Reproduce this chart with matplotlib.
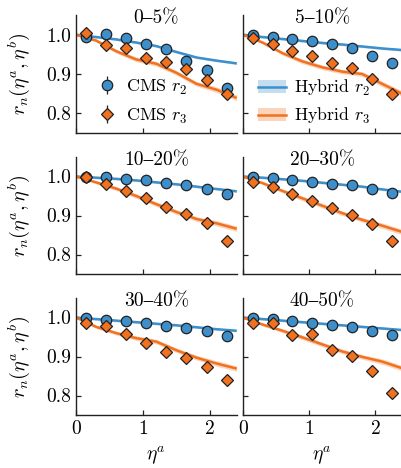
import numpy as np
import matplotlib
matplotlib.use('Agg')
import matplotlib.pyplot as plt
from matplotlib.patches import Patch
from matplotlib.lines import Line2D

plt.rcParams['font.family'] = ['cmr10', 'STIXGeneral']
plt.rcParams['mathtext.fontset'] = 'cm'
plt.rcParams['axes.formatter.use_mathtext'] = True

# ---------------- data ----------------
centralities = ['0–5%', '5–10%', '10–20%', '20–30%', '30–40%', '40–50%']

eta_cms = [0.15, 0.45, 0.75, 1.05, 1.35, 1.65, 1.95, 2.25]

cms_r2 = [
    [0.995, 1.001, 0.991, 0.976, 0.963, 0.934, 0.909, 0.864],
    [0.998, 0.994, 0.989, 0.983, 0.977, 0.965, 0.947, 0.929],
    [0.998, 0.998, 0.993, 0.990, 0.984, 0.978, 0.968, 0.955],
    [0.998, 0.995, 0.990, 0.987, 0.982, 0.978, 0.967, 0.957],
    [0.998, 0.994, 0.990, 0.985, 0.978, 0.973, 0.965, 0.953],
    [0.998, 0.996, 0.991, 0.987, 0.980, 0.975, 0.966, 0.954],
]
cms_r3 = [
    [1.005, 0.975, 0.965, 0.940, 0.930, 0.913, 0.886, 0.849],
    [0.991, 0.977, 0.959, 0.946, 0.927, 0.914, 0.888, 0.850],
    [0.998, 0.981, 0.962, 0.944, 0.923, 0.904, 0.882, 0.834],
    [0.985, 0.974, 0.955, 0.937, 0.918, 0.901, 0.878, 0.835],
    [0.985, 0.977, 0.957, 0.934, 0.911, 0.896, 0.872, 0.841],
    [0.985, 0.987, 0.954, 0.958, 0.916, 0.902, 0.864, 0.806],
]
cms_err = [0.002, 0.002, 0.002, 0.002, 0.003, 0.003, 0.003, 0.004]

eta_hyb = [0.0, 0.3, 0.6, 0.9, 1.2, 1.5, 1.8, 2.1, 2.4]

hyb_r2 = [
    [1.000, 0.994, 0.988, 0.980, 0.971, 0.956, 0.942, 0.934, 0.927],
    [1.000, 0.994, 0.989, 0.984, 0.979, 0.975, 0.970, 0.965, 0.961],
    [1.000, 0.997, 0.994, 0.990, 0.985, 0.980, 0.974, 0.968, 0.962],
    [1.000, 0.997, 0.993, 0.989, 0.984, 0.979, 0.974, 0.967, 0.961],
    [1.000, 0.996, 0.992, 0.988, 0.984, 0.980, 0.975, 0.970, 0.966],
    [1.000, 0.996, 0.992, 0.988, 0.984, 0.980, 0.976, 0.972, 0.968],
]
hyb_r3 = [
    [1.000, 0.985, 0.958, 0.937, 0.926, 0.903, 0.875, 0.860, 0.839],
    [1.000, 0.980, 0.953, 0.932, 0.917, 0.906, 0.900, 0.875, 0.850],
    [1.000, 0.985, 0.969, 0.950, 0.929, 0.909, 0.891, 0.880, 0.866],
    [1.000, 0.983, 0.963, 0.944, 0.925, 0.906, 0.889, 0.874, 0.858],
    [1.000, 0.976, 0.960, 0.947, 0.938, 0.916, 0.897, 0.882, 0.869],
    [1.000, 0.982, 0.966, 0.949, 0.931, 0.913, 0.899, 0.887, 0.870],
]
hyb_r2_band = [0.003] * 9
hyb_r3_band = [0.0, 0.004, 0.005, 0.006, 0.006, 0.006, 0.006, 0.007, 0.007]

x_ticks = [0, 1, 2]
y_ticks = [0.8, 0.9, 1.0]
y_ticklabels = ['0.8', '0.9', '1.0']

# ---------------- style ----------------
BLUE = '#3d8fcb'
ORANGE = '#f2711f'
EDGE = '#222222'

W, H = 402, 468
fig = plt.figure(figsize=(W / 100, H / 100), dpi=100)

col_l = [76 / W, 242.7 / W]
col_w = [(236.7 - 76) / W, (402 - 242.7) / W]
row_top = [15, 157, 298]
row_bot = [133, 274, 415]

axes = []
for i in range(6):
    r, c = divmod(i, 2)
    b = 1 - row_bot[r] / H
    h = (row_bot[r] - row_top[r]) / H
    ax = fig.add_axes([col_l[c], b, col_w[c], h])
    axes.append(ax)

    e_h = np.array(eta_hyb)
    for vals, band, col in ((hyb_r2[i], hyb_r2_band, BLUE), (hyb_r3[i], hyb_r3_band, ORANGE)):
        v = np.array(vals)
        bb = np.array(band)
        ax.fill_between(e_h, v - bb, v + bb, color=col, alpha=0.3, lw=0)
        ax.plot(e_h, v, color=col, lw=1.8, solid_capstyle='butt')

    ax.errorbar(eta_cms, cms_r2[i], yerr=cms_err, fmt='o', ms=7.5, mfc=BLUE,
                mec=EDGE, mew=0.9, ecolor=EDGE, elinewidth=0.9,
                capsize=0, zorder=5)
    ax.errorbar(eta_cms, cms_r3[i], yerr=cms_err, fmt='D', ms=6.0, mfc=ORANGE,
                mec=EDGE, mew=0.9, ecolor=EDGE, elinewidth=0.9,
                capsize=0, zorder=6)

    ax.set_xlim(0, 2.4)
    ax.set_ylim(0.75, 1.05)
    ax.set_xticks(x_ticks)
    ax.set_yticks(y_ticks)
    for s in ('top', 'right'):
        ax.spines[s].set_visible(False)
    for s in ('left', 'bottom'):
        ax.spines[s].set_linewidth(1.0)
        ax.spines[s].set_color(EDGE)
    ax.tick_params(direction='in', length=3.5, width=0.9, color=EDGE,
                   labelsize=14, pad=3.5)
    if c == 0:
        ax.set_yticklabels(y_ticklabels)
        ax.set_ylabel(r'$r_n(\eta^a,\eta^b)$', fontsize=14.5, labelpad=10)
    else:
        ax.set_yticklabels([])
    if r == 2:
        ax.set_xticklabels([str(t) for t in x_ticks])
        ax.set_xlabel(r'$\eta^a$', fontsize=14, labelpad=5)
    else:
        ax.set_xticklabels([])

    ax.text(0.5, 0.975, centralities[i], transform=ax.transAxes,
            ha='center', va='center', fontsize=14)

# legends
eb2 = axes[0].errorbar([], [], yerr=[], fmt='o', ms=7.5, mfc=BLUE, mec=EDGE,
                       mew=0.9, ecolor=EDGE, elinewidth=0.9)
eb3 = axes[0].errorbar([], [], yerr=[], fmt='D', ms=6.0, mfc=ORANGE, mec=EDGE,
                       mew=0.9, ecolor=EDGE, elinewidth=0.9)
axes[0].legend([eb2, eb3], ['CMS $r_2$', 'CMS $r_3$'], loc='lower left',
               bbox_to_anchor=(0.09, 0.0), frameon=False, fontsize=13,
               handlelength=1.0, handletextpad=0.55, labelspacing=0.55,
               borderaxespad=0)

h_hyb2 = (Patch(facecolor=BLUE, alpha=0.3, lw=0), Line2D([], [], color=BLUE, lw=1.8))
h_hyb3 = (Patch(facecolor=ORANGE, alpha=0.3, lw=0), Line2D([], [], color=ORANGE, lw=1.8))
axes[1].legend([h_hyb2, h_hyb3], ['Hybrid $r_2$', 'Hybrid $r_3$'], loc='lower left',
               bbox_to_anchor=(0.05, 0.0), frameon=False, fontsize=12.8,
               handlelength=1.6, handletextpad=0.45, labelspacing=0.45,
               borderaxespad=0)

fig.savefig('out.png', dpi=100)
